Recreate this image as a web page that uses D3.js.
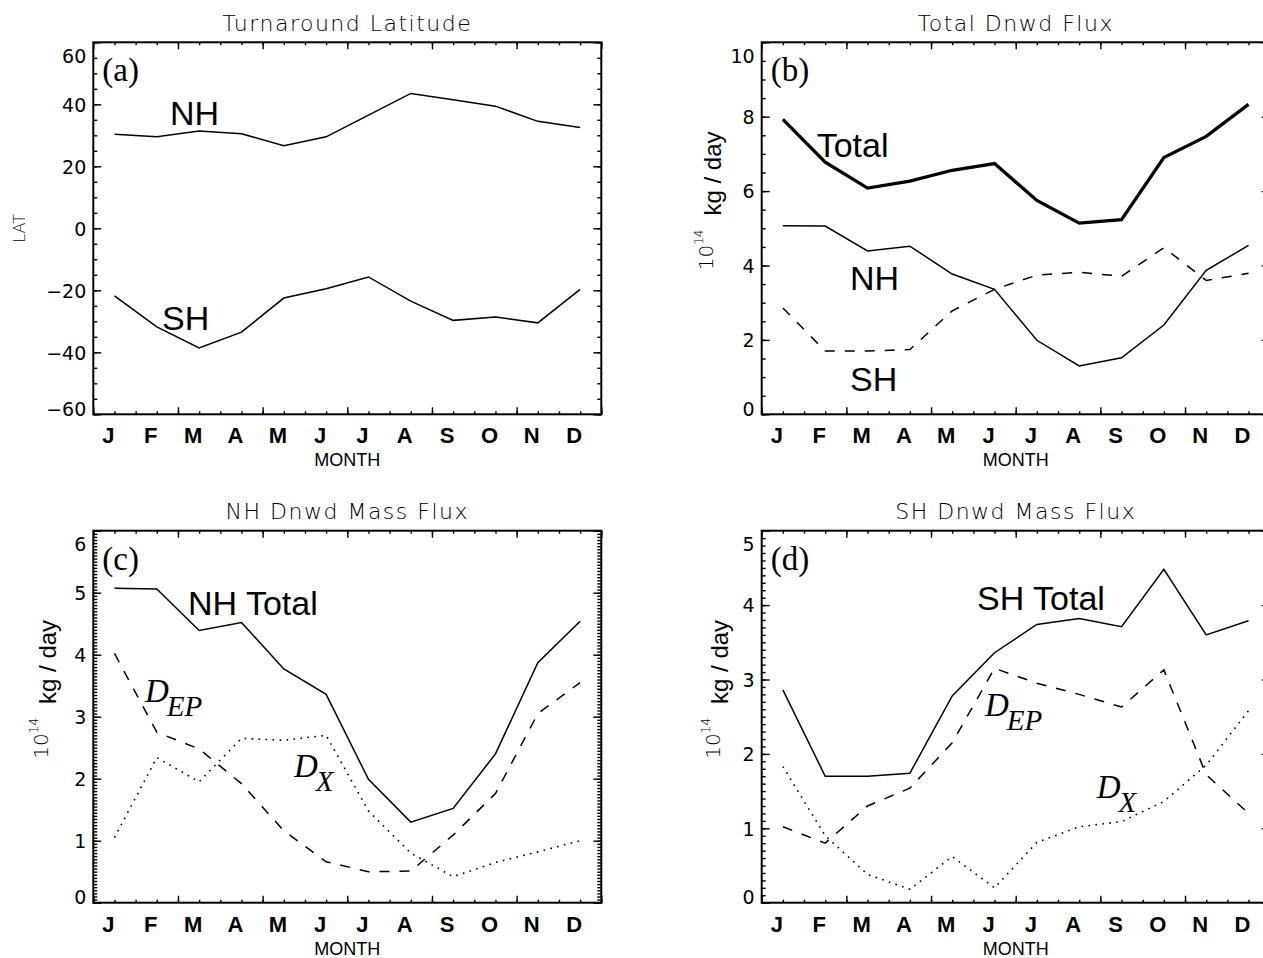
<!DOCTYPE html>
<html>
<head>
<meta charset="utf-8">
<script src="https://cdn.jsdelivr.net/npm/d3@7"></script>
<style>
    body { margin: 0; background: #fff; }
    svg { display: block; background: #fff; }
    .hershey { font-family: "DejaVu Sans", sans-serif; font-weight: 200; }
    .digits { font-family: "DejaVu Sans", sans-serif; }
    .helv { font-family: "Liberation Sans", Arial, sans-serif; }
    .serif { font-family: "Liberation Serif", "Times New Roman", serif; }
    .tick line { stroke: #000; stroke-width: 1.4; }
    .line { fill: none; stroke: #000; }
</style>
</head>
<body>
<svg id="fig" width="1263" height="958"></svg>
<script>
// ===============================================================
//  Seasonal cycle of turnaround latitude and downward mass flux
// ===============================================================

// === DATA ======================================================

const MONTHS = ["J", "F", "M", "A", "M", "J", "J", "A", "S", "O", "N", "D"];

// (a) turnaround latitude, degrees
const latNH = [30.3, 29.5, 31.4, 30.5, 26.6, 29.5, 36.5, 43.5, 41.5, 39.4, 34.5, 32.5];
const latSH = [-21.8, -31.8, -38.6, -33.5, -22.5, -19.5, -15.7, -23.5, -29.7, -28.6, -30.5, -19.7];

// (b) total downward flux, 10^14 kg/day
const fluxTotal = [7.93, 6.78, 6.08, 6.27, 6.56, 6.74, 5.75, 5.14, 5.23, 6.90, 7.47, 8.33];
const fluxNH = [5.07, 5.06, 4.39, 4.52, 3.77, 3.36, 1.99, 1.30, 1.52, 2.40, 3.87, 4.54];
const fluxSH = [2.86, 1.70, 1.70, 1.74, 2.78, 3.36, 3.74, 3.82, 3.71, 4.48, 3.60, 3.79];

// (c) NH components
const nhDEP = [4.02, 2.75, 2.48, 1.92, 1.16, 0.66, 0.50, 0.51, 1.09, 1.76, 3.05, 3.55];
const nhDX = [1.05, 2.34, 1.95, 2.65, 2.62, 2.70, 1.48, 0.80, 0.42, 0.65, 0.82, 1.00];

// (d) SH components
const shDEP = [1.02, 0.80, 1.30, 1.54, 2.15, 3.15, 2.95, 2.80, 2.63, 3.13, 1.72, 1.20];
const shDX = [1.83, 0.90, 0.38, 0.18, 0.62, 0.20, 0.81, 1.02, 1.09, 1.36, 1.85, 2.58];

// y tick labels
const latTicks = [-60, -40, -20, 0, 20, 40, 60];
const fluxTicks = [0, 2, 4, 6, 8, 10];
const nhTicks = [0, 1, 2, 3, 4, 5, 6];
const shTicks = [0, 1, 2, 3, 4, 5];

// === LAYOUT ====================================================

const svg = d3.select("#fig");
const W = 508, H = 372;

const DASH = "10,10";
const DOT = "1.6,5.4";

const PANELS = [
    {
        key: "(a)", title: "Turnaround Latitude", left: 93.3, top: 42.3,
        domain: [-60, 60], ticks: latTicks, minor: 5, ylabel: "LAT",
        series: [
            { values: latNH, dash: null, width: 1.5 },
            { values: latSH, dash: null, width: 1.5 }
        ],
        notes: [
            { text: "NH", x: 76.7, y: 82.7 },
            { text: "SH", x: 68.7, y: 287.7 }
        ]
    },
    {
        key: "(b)", title: "Total Dnwd Flux", left: 761.7, top: 42.3,
        domain: [0, 10], ticks: fluxTicks, minor: 0.5, unitX: -41,
        series: [
            { values: fluxTotal, dash: null, width: 3.3 },
            { values: fluxNH, dash: null, width: 1.5 },
            { values: fluxSH, dash: DASH, width: 1.5 }
        ],
        notes: [
            { text: "Total", x: 55, y: 114.4 },
            { text: "NH", x: 88.3, y: 247.7 },
            { text: "SH", x: 88.3, y: 348.4 }
        ]
    },
    {
        key: "(c)", title: "NH Dnwd Mass Flux", left: 93.3, top: 530.7,
        domain: [0, 6], ticks: nhTicks, minor: 0.05, unitX: -37,
        series: [
            { values: fluxNH, dash: null, width: 1.5 },
            { values: nhDEP, dash: DASH, width: 1.5 },
            { values: nhDX, dash: DOT, width: 1.6 }
        ],
        notes: [
            { text: "NH Total", x: 94.7, y: 84.3 }
        ],
        symbols: [
            { sub: "EP", x: 51.7, y: 171 },
            { sub: "X", x: 200.7, y: 246.3 }
        ]
    },
    {
        key: "(d)", title: "SH Dnwd Mass Flux", left: 761.7, top: 530.7,
        domain: [0, 5], ticks: shTicks, minor: 0.1, unitX: -33.5,
        series: [
            { values: fluxSH, dash: null, width: 1.5 },
            { values: shDEP, dash: DASH, width: 1.5 },
            { values: shDX, dash: DOT, width: 1.6 }
        ],
        notes: [
            { text: "SH Total", x: 215.3, y: 79.3 }
        ],
        symbols: [
            { sub: "EP", x: 223.3, y: 185.3 },
            { sub: "X", x: 335, y: 267.6 }
        ]
    }
];

const fmt = d => d < 0 ? "\u2212" + Math.abs(d) : String(d);

// === DRAW ======================================================

function drawPanel(p) {
    const g = svg.append("g").attr("transform", `translate(${p.left},${p.top})`);

    const x = d3.scaleLinear().domain([0, 12]).range([0, W]);
    const y = d3.scaleLinear().domain(p.domain).range([H, 0]);

    const noDomain = sel => sel.select(".domain").remove();

    // y ticks, left and right, pointing inward
    const minorY = d3.range(p.domain[0], p.domain[1] + 1e-9, p.minor);
    g.append("g").call(d3.axisLeft(y).tickValues(minorY).tickSize(-4).tickFormat("")).call(noDomain);
    g.append("g").attr("transform", `translate(${W},0)`)
        .call(d3.axisRight(y).tickValues(minorY).tickSize(-4).tickFormat("")).call(noDomain);
    g.append("g").attr("transform", `translate(${W},0)`)
        .call(d3.axisRight(y).tickValues(p.ticks).tickSize(-8).tickFormat("")).call(noDomain);

    const yAxis = g.append("g")
        .call(d3.axisLeft(y).tickValues(p.ticks).tickSize(-8).tickPadding(7).tickFormat(fmt))
        .call(noDomain);
    yAxis.selectAll("text")
        .attr("class", "digits")
        .attr("font-size", 19)
        .attr("fill", "#000")
        .attr("dy", d => d === p.domain[1] ? "1.05em" : d === p.domain[0] ? "0.05em" : "0.36em");

    // x ticks, bottom and top
    const minorX = d3.range(0, 12.01, 0.5);
    const majorX = d3.range(0, 12.01, 2);
    g.append("g").attr("transform", `translate(0,${H})`)
        .call(d3.axisBottom(x).tickValues(minorX).tickSize(-3).tickFormat("")).call(noDomain);
    g.append("g").attr("transform", `translate(0,${H})`)
        .call(d3.axisBottom(x).tickValues(majorX).tickSize(-7).tickFormat("")).call(noDomain);
    g.append("g").call(d3.axisTop(x).tickValues(minorX).tickSize(-3).tickFormat("")).call(noDomain);
    g.append("g").call(d3.axisTop(x).tickValues(majorX).tickSize(-7).tickFormat("")).call(noDomain);

    // month letters
    const monthAxis = g.append("g").attr("transform", `translate(0,${H})`)
        .call(d3.axisBottom(x)
            .tickValues(MONTHS.map((m, i) => i + 0.5))
            .tickSize(0)
            .tickFormat((d, i) => MONTHS[i]))
        .call(noDomain);
    monthAxis.selectAll("text")
        .attr("class", "helv")
        .attr("font-size", 22)
        .attr("font-weight", "bold")
        .attr("fill", "#000")
        .attr("x", -6.5)
        .attr("y", 29)
        .attr("dy", 0);

    // frame
    g.append("rect")
        .attr("width", W).attr("height", H)
        .attr("fill", "none").attr("stroke", "#000").attr("stroke-width", 2);

    // titles
    g.append("text")
        .attr("class", "hershey")
        .attr("x", W / 2).attr("y", -11.5)
        .attr("text-anchor", "middle")
        .attr("font-size", 22)
        .attr("letter-spacing", 1.5)
        .text(p.title);

    g.append("text")
        .attr("class", "helv")
        .attr("x", W / 2).attr("y", H + 52)
        .attr("text-anchor", "middle")
        .attr("font-size", 18)
        .text("MONTH");

    if (p.ylabel) {
        g.append("text")
            .attr("class", "hershey")
            .attr("transform", `translate(-68,${H / 2}) rotate(-90)`)
            .attr("text-anchor", "middle")
            .attr("font-size", 16)
            .text(p.ylabel);
    } else {
        const unit = g.append("text")
            .attr("transform", `translate(${p.unitX},${H / 2 + 42}) rotate(-90)`);
        unit.append("tspan").attr("class", "hershey").attr("font-size", 20).attr("dy", -8).text("10");
        unit.append("tspan").attr("class", "hershey").attr("font-size", 12).attr("dy", -10).text("14");
        unit.append("tspan").attr("class", "helv").attr("font-size", 24).attr("dy", 18).attr("dx", 14).text("kg / day");
    }

    // panel key
    g.append("text")
        .attr("class", "serif")
        .attr("x", 9).attr("y", 39)
        .attr("font-size", 33)
        .text(p.key);

    // series
    const line = d3.line()
        .x((d, i) => x(i + 0.5))
        .y(d => y(d));

    p.series.forEach(s => {
        g.append("path")
            .datum(s.values)
            .attr("class", "line")
            .style("stroke-width", s.width)
            .attr("stroke-dasharray", s.dash)
            .attr("d", line);
    });

    // in-plot labels
    p.notes.forEach(n => {
        g.append("text")
            .attr("class", "helv")
            .attr("x", n.x).attr("y", n.y)
            .attr("font-size", 34)
            .text(n.text);
    });

    (p.symbols || []).forEach(s => {
        const t = g.append("text")
            .attr("class", "serif")
            .attr("font-style", "italic")
            .attr("x", s.x).attr("y", s.y);
        t.append("tspan").attr("font-size", 33).text("D");
        t.append("tspan").attr("font-size", 29).attr("dy", 14).attr("dx", -2).text(s.sub);
    });
}

PANELS.forEach(drawPanel);
</script>
</body>
</html>
